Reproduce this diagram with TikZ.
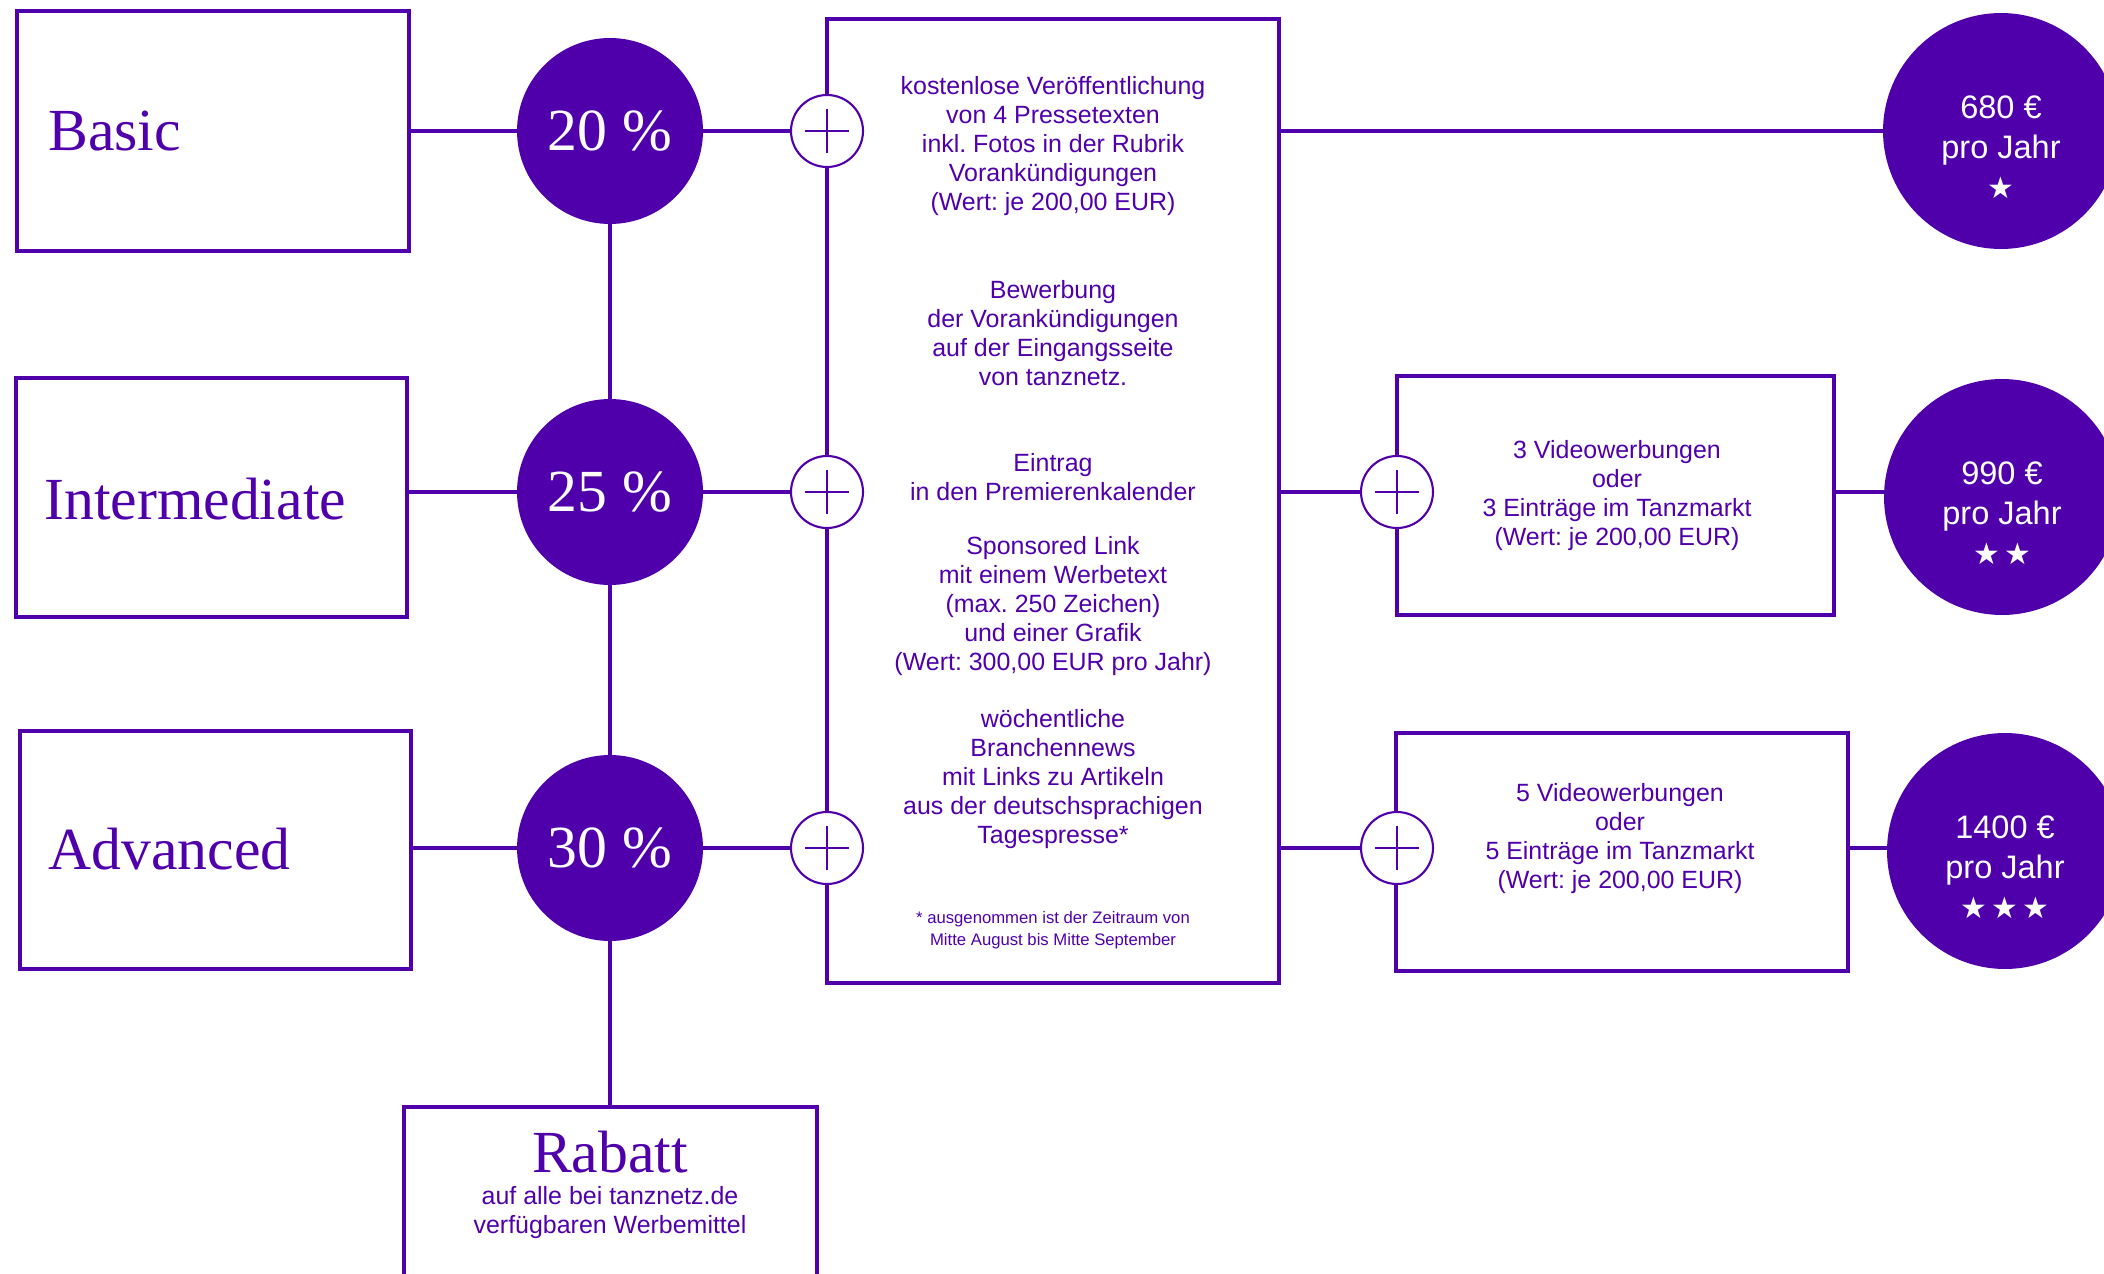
\documentclass[tikz,border=0pt]{standalone}
\usepackage{fontspec}
\setmainfont{Liberation Serif}
\setsansfont{Liberation Sans}
\newfontfamily\sternschrift{DejaVu Sans}
\definecolor{lila}{HTML}{5000AA}
\newcommand{\stern}{\makebox[17.6pt]{★}}
\newcommand{\sterne}[1]{{\sternschrift\fontsize{17}{17}\selectfont #1}}
\frenchspacing
\tikzset{
    kasten/.style={draw=lila,line width=2pt,inner sep=0pt},
    titel/.style={text=lila,inner sep=0pt,font=\fontsize{34}{34}\selectfont},
    prozent/.style={circle,fill=lila,text=white,minimum size=3.72cm,inner sep=0pt,font=\fontsize{34}{34}\selectfont},
    plusknoten/.style={circle,draw=lila,fill=white,line width=1.2pt,minimum size=1.44cm,inner sep=0pt,
        path picture={\draw[lila,line width=1.4pt]
            ([xshift=-0.44cm]path picture bounding box.center) -- ([xshift=0.44cm]path picture bounding box.center)
            ([yshift=-0.44cm]path picture bounding box.center) -- ([yshift=0.44cm]path picture bounding box.center);}},
    info/.style={text=lila,align=center,inner sep=0pt,font=\sffamily\fontsize{14.2}{16.5}\selectfont},
    preis/.style={circle,fill=lila,minimum size=4.72cm,inner sep=0pt},
    preistext/.style={text=white,align=center,inner sep=0pt,font=\sffamily\fontsize{18.5}{22.8}\selectfont},
    linie/.style={draw=lila,line width=2.1pt}
}
\begin{document}
\begin{tikzpicture}[x=0.02cm,y=-0.02cm]
        \useasboundingbox (0,0) rectangle (2104,1274);
        \clip (0,0) rectangle (2104,1274);
        \node[kasten,minimum width=7.84cm,minimum height=4.8cm] (basic) at (213,131) {};
        \node[kasten,minimum width=7.82cm,minimum height=4.78cm] (inter) at (211.5,497.5) {};
        \node[kasten,minimum width=7.82cm,minimum height=4.76cm] (adv) at (215.5,850) {};
        \node[titel,anchor=base west] (tbasic) at (48,151) {Basic};
        \node[titel,anchor=base west] (tinter) at (44,519) {Intermediate};
        \node[titel,anchor=base west] (tadv) at (48,869) {Advanced};
        \node[prozent] (p20) at (610,131) {20 \%};
        \node[prozent] (p25) at (610,492) {25 \%};
        \node[prozent] (p30) at (610,848) {30 \%};
        \node[kasten,minimum width=8.26cm,minimum height=3.66cm] (rabatt) at (610.5,1198.5) {};
        \node[titel,anchor=base] (trabatt) at (610,1172) {Rabatt};
        \node[info] (trabatt2) at (610,1213) {auf alle bei tanznetz.de\\verfügbaren Werbemittel};
        \node[kasten,minimum width=9.04cm,minimum height=19.28cm] (mitte) at (1053,501) {};
        \node[info] (m1) at (1053,146.5) {kostenlose Veröffentlichung\\von 4 Pressetexten\\inkl. Fotos in der Rubrik\\Vorankündigungen\\(Wert: je 200,00 EUR)};
        \node[info] (m2) at (1053,333.5) {Bewerbung\\der Vorankündigungen\\auf der Eingangsseite\\von tanznetz.};
        \node[info] (m3) at (1053,477.5) {Eintrag\\in den Premierenkalender};
        \node[info] (m4) at (1053,606.5) {Sponsored Link\\mit einem Werbetext\\(max. 250 Zeichen)\\und einer Grafik\\(Wert: 300,00 EUR pro Jahr)};
        \node[info] (m5) at (1053,779.5) {wöchentliche\\Branchennews\\mit Links zu Artikeln\\aus der deutschsprachigen\\Tagespresse*};
        \node[info,font=\sffamily\fontsize{9.5}{12.5}\selectfont] (fussnote) at (1053,930) {* ausgenommen ist der Zeitraum von\\Mitte August bis Mitte September};
        \node[kasten,minimum width=8.74cm,minimum height=4.78cm] (video3) at (1615.5,495.5) {};
        \node[info] (tvideo3) at (1617,496) {3 Videowerbungen\\oder\\3 Einträge im Tanzmarkt\\(Wert: je 200,00 EUR)};
        \node[kasten,minimum width=9.04cm,minimum height=4.76cm] (video5) at (1622,852) {};
        \node[info] (tvideo5) at (1620,839) {5 Videowerbungen\\oder\\5 Einträge im Tanzmarkt\\(Wert: je 200,00 EUR)};
        \node[plusknoten] (plus1) at (827,131) {};
        \node[plusknoten] (plus2) at (827,492) {};
        \node[plusknoten] (plus3) at (827,848) {};
        \node[plusknoten] (plus4) at (1397,492) {};
        \node[plusknoten] (plus5) at (1397,848) {};
        \node[preis] (k680) at (2001,131) {};
        \node[preis] (k990) at (2002,497) {};
        \node[preis] (k1400) at (2005,851) {};
        \node[preistext] (t680) at (2001,147) {680 €\\pro Jahr\\\sterne{\stern}};
        \node[preistext] (t990) at (2002,513) {990 €\\pro Jahr\\\sterne{\stern\stern}};
        \node[preistext] (t1400) at (2005,867) {1400 €\\pro Jahr\\\sterne{\stern\stern\stern}};
        \draw[linie] (basic.east |- p20) -- (p20);
        \draw[linie] (inter.east |- p25) -- (p25);
        \draw[linie] (adv.east |- p30) -- (p30);
        \draw[linie] (p20) -- (p25);
        \draw[linie] (p25) -- (p30);
        \draw[linie] (p30) -- (p30 |- rabatt.north);
        \draw[linie] (p20) -- (plus1);
        \draw[linie] (p25) -- (plus2);
        \draw[linie] (p30) -- (plus3);
        \draw[linie] (mitte.east |- k680) -- (k680);
        \draw[linie] (mitte.east |- plus4) -- (plus4);
        \draw[linie] (mitte.east |- plus5) -- (plus5);
        \draw[linie] (video3.east |- plus4) -- (k990.west |- plus4);
        \draw[linie] (video5.east |- plus5) -- (k1400.west |- plus5);
    \end{tikzpicture}
\end{document}
